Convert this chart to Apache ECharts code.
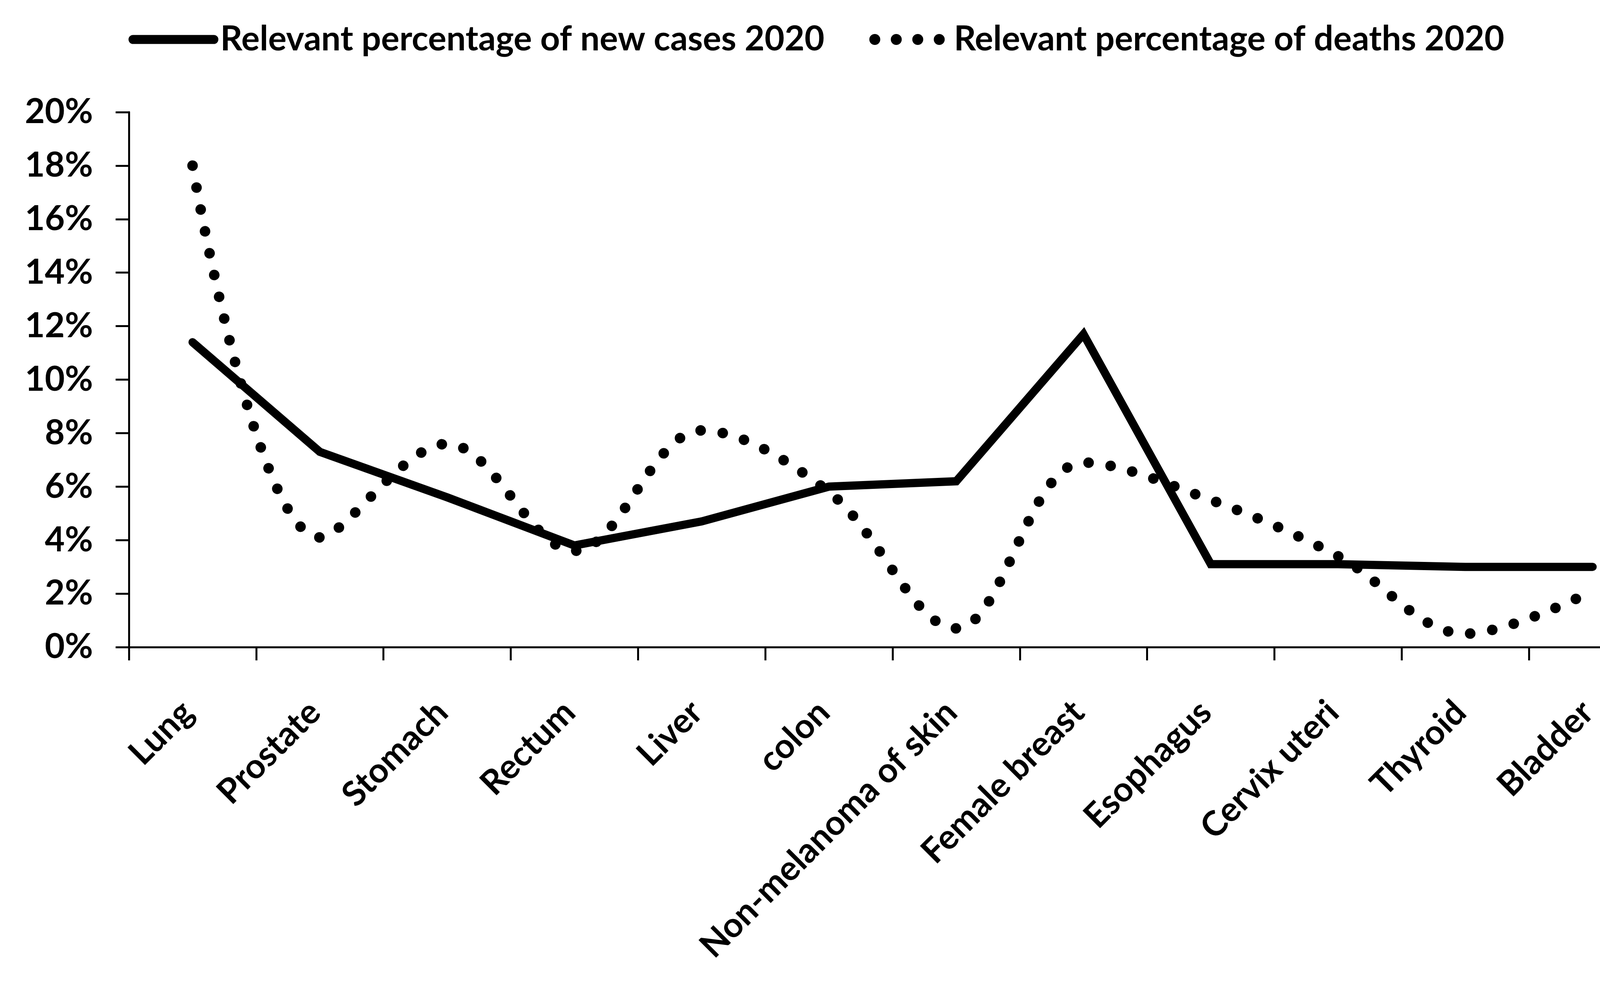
<!DOCTYPE html>
<html>
<head>
<meta charset="utf-8">
<script src="https://cdn.jsdelivr.net/npm/echarts@6/dist/echarts.min.js"></script>
<style>
html,body{margin:0;padding:0;background:#fff;}
#chart{width:4281px;height:2513px;}
</style>
</head>
<body>
<div id="chart"></div>
<script>
const categories = ['Lung','Prostate','Stomach','Rectum','Liver','colon','Non-melanoma of skin','Female breast','Esophagus','Cervix uteri','Thyroid','Bladder'];
const newCases = [11.4, 7.3, 5.6, 3.8, 4.7, 6.0, 6.2, 11.7, 3.1, 3.1, 3.0, 3.0];
const deaths = [18.0, 4.1, 7.6, 3.6, 8.1, 5.8, 0.7, 6.9, 5.5, 3.4, 0.5, 2.1];
const seriesNames = ['Relevant percentage of new cases 2020','Relevant percentage of deaths 2020'];
const yTicks = {min: 0, max: 20, interval: 2};

const FONT = 'Lato';
const solidIcon = 'path://M11.5,0 L218.5,0 A11.5,11.5 0 0,1 218.5,23 L11.5,23 A11.5,11.5 0 0,1 11.5,0 Z';
function dotsIcon() {
  let p = 'path://';
  for (let i = 0; i < 4; i++) {
    const x = i * 55;
    p += 'M' + x + ',14 A14,14 0 1,0 ' + (x + 28) + ',14 A14,14 0 1,0 ' + x + ',14 Z ';
  }
  return p;
}

const chart = echarts.init(document.getElementById('chart'), null, {renderer: 'canvas'});
chart.setOption({
  animation: false,
  backgroundColor: '#ffffff',
  textStyle: {fontFamily: FONT, fontWeight: 'bold', color: '#000'},
  legend: {
    left: 324,
    top: 42,
    itemWidth: 230,
    itemHeight: 28,
    itemGap: 115,
    itemTextGap: 10,
    symbolKeepAspect: true,
    textStyle: {fontFamily: FONT, fontWeight: 'bold', fontSize: 88, color: '#000', lineHeight: 108},
    data: [
      {name: seriesNames[0], icon: solidIcon},
      {name: seriesNames[1], icon: dotsIcon()}
    ]
  },
  grid: {left: 330, right: 41, top: 287, bottom: 857, containLabel: false},
  xAxis: {
    type: 'category',
    data: categories,
    boundaryGap: true,
    axisLine: {lineStyle: {color: '#000', width: 5}},
    axisTick: {show: true, length: 34, lineStyle: {color: '#000', width: 5}, alignWithLabel: false},
    axisLabel: {interval: 0, rotate: 45, margin: 140, padding: [0, 18, 0, 0], fontFamily: FONT, fontWeight: 'bold', fontSize: 88, color: '#000'},
    splitLine: {show: false}
  },
  yAxis: {
    type: 'value',
    min: yTicks.min, max: yTicks.max, interval: yTicks.interval,
    axisLine: {show: true, lineStyle: {color: '#000', width: 5}},
    axisTick: {show: true, length: 34, lineStyle: {color: '#000', width: 5}},
    axisLabel: {formatter: '{value}%', margin: 92, fontFamily: FONT, fontWeight: 'bold', fontSize: 88, color: '#000'},
    splitLine: {show: false}
  },
  series: [
    {
      name: seriesNames[0],
      type: 'line',
      data: newCases,
      symbol: 'none',
      smooth: false,
      lineStyle: {color: '#000', width: 21, cap: 'round', join: 'miter'},
      itemStyle: {color: '#000'}
    },
    {
      name: seriesNames[1],
      type: 'line',
      data: deaths,
      symbol: 'none',
      smooth: 0.35,
      lineStyle: {color: '#000', width: 27, type: [0.1, 57], cap: 'round'},
      itemStyle: {color: '#000'}
    }
  ]
});
</script>
</body>
</html>
